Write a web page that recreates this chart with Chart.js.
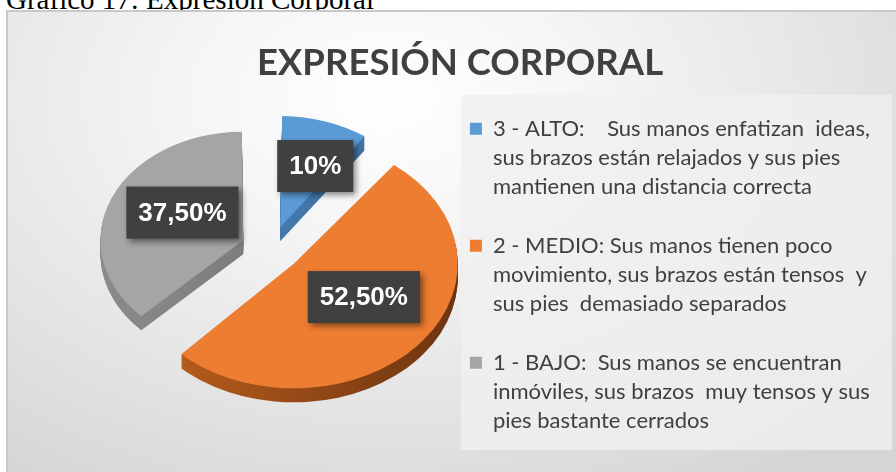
<!DOCTYPE html>
<html>
<head>
<meta charset="utf-8">
<script src="https://cdn.jsdelivr.net/npm/chart.js@4.4.1/dist/chart.umd.min.js"></script>
<style>
    html, body { margin: 0; padding: 0; width: 896px; height: 472px; overflow: hidden; background: #fff; }
    #caption { position: absolute; left: 6px; top: -15px; font: 29px/1 "Liberation Serif", "Times New Roman", serif; color: #000; white-space: nowrap; }
    #frame { position: absolute; left: 6px; top: 10px; width: 900px; height: 480px; border: 2px solid #c8c8c8;
             background: radial-gradient(ellipse 75% 95% at 42% 18%, #ffffff 0%, #f5f5f5 30%, #e3e3e3 70%, #d5d5d5 100%); }
    #wrap { position: absolute; left: 0; top: 0; width: 888px; height: 460px; }
</style>
</head>
<body>
<div id="caption">Gráfico 17: Expresión Corporal</div>
<div id="frame"><div id="wrap"><canvas id="chart"></canvas></div></div>

<script>
const categories = [
    ["3 - ALTO:    Sus manos enfatizan  ideas,", "sus brazos están relajados y sus pies", "mantienen una distancia correcta"],
    ["2 - MEDIO: Sus manos tienen poco", "movimiento, sus brazos están tensos  y", "sus pies  demasiado separados"],
    ["1 - BAJO:  Sus manos se encuentran", "inmóviles, sus brazos  muy tensos y sus", "pies bastante cerrados"]
];
const percentages = [10, 52.5, 37.5];
const sliceColors = ["#5b9bd5", "#ed7d31", "#a5a5a5"];
const sideColors = [["#4f88bf", "#3a6a99"], ["#c4631f", "#6a3310"], ["#8e8e8e", "#6c6c6c"]];

// fake 3D view of the pie: vertical squash, extrusion depth, plot position
const view = { tilt: 0.76, depth: 14, shiftX: 31, shiftY: -31, labelDx: 11, labelDy: -5 };

function pctText(v) {
    return (v % 1 ? v.toFixed(2).replace(".", ",") : String(v)) + "%";
}

function viewCenter(chart) {
    const a = chart.getDatasetMeta(0).data[0];
    return { x: a.x, y: a.y };
}

const panelPlugin = {
    id: "panel",
    beforeDraw(chart) {
        const l = chart.legend;
        const ctx = chart.ctx;
        ctx.save();
        ctx.fillStyle = "rgba(240,240,240,0.8)";
        ctx.fillRect(l.left + 21, l.top + 7, chart.width - 4 - (l.left + 21), l.bottom - 22 - (l.top + 7));
        ctx.restore();
    }
};

const pie3dPlugin = {
    id: "pie3d",
    beforeDatasetsDraw(chart) {
        const ctx = chart.ctx;
        const arcs = chart.getDatasetMeta(0).data;
        const c = viewCenter(chart);
        const r = arcs[0].outerRadius + 40;

        ctx.save();
        ctx.translate(c.x + view.shiftX, c.y + view.shiftY);
        ctx.scale(1, view.tilt);
        ctx.translate(-c.x, -c.y);

        for (let d = view.depth; d > 0; d--) {
            ctx.save();
            ctx.translate(0, d / view.tilt);
            arcs.forEach((arc, i) => {
                const g = ctx.createLinearGradient(c.x - r, 0, c.x + r, 0);
                g.addColorStop(0, sideColors[i][0]);
                g.addColorStop(1, sideColors[i][1]);
                const side = Object.create(arc);
                side.options = Object.assign({}, arc.options, { backgroundColor: g, borderColor: g, borderWidth: 0 });
                side.draw(ctx);
            });
            ctx.restore();
        }
    },
    afterDatasetsDraw(chart) {
        const ctx = chart.ctx;
        ctx.restore();

        const arcs = chart.getDatasetMeta(0).data;
        const c = viewCenter(chart);

        ctx.save();
        ctx.font = "bold 26px 'Liberation Sans', Arial, sans-serif";
        ctx.textAlign = "center";
        ctx.textBaseline = "middle";
        arcs.forEach((arc, i) => {
            const mid = (arc.startAngle + arc.endAngle) / 2;
            const dist = arc.options.offset / 4 + arc.outerRadius * 0.58;
            const px = c.x + Math.cos(mid) * dist;
            const py = c.y + Math.sin(mid) * dist;
            const x = px + view.shiftX + view.labelDx;
            const y = c.y + view.shiftY + (py - c.y) * view.tilt + view.labelDy;

            const text = pctText(percentages[i]);
            const w = ctx.measureText(text).width + 24;
            const h = 52;

            ctx.shadowColor = "rgba(0,0,0,0.45)";
            ctx.shadowBlur = 6;
            ctx.shadowOffsetX = 3;
            ctx.shadowOffsetY = 3;
            ctx.fillStyle = "#404040";
            ctx.fillRect(x - w / 2, y - h / 2, w, h);

            ctx.shadowColor = "transparent";
            ctx.fillStyle = "#ffffff";
            ctx.fillText(text, x, y + 1);
        });
        ctx.restore();
    }
};

new Chart(document.getElementById("chart"), {
    type: "pie",
    data: {
        labels: categories,
        datasets: [{
            data: percentages,
            backgroundColor: sliceColors,
            borderWidth: 0,
            offset: 120,
            radius: 134
        }]
    },
    options: {
        responsive: true,
        maintainAspectRatio: false,
        animation: false,
        layout: {
            padding: { left: 32, right: 16, top: 0, bottom: 0 }
        },
        plugins: {
            title: {
                display: true,
                text: "EXPRESIÓN CORPORAL",
                color: "#404040",
                font: { family: "Lato", size: 36.5, weight: "bold", lineHeight: 1.2 },
                padding: { top: 29, bottom: 3 }
            },
            legend: {
                position: "right",
                align: "start",
                fullSize: false,
                maxWidth: 470,
                labels: {
                    boxWidth: 12,
                    boxHeight: 12,
                    padding: 30,
                    color: "#404040",
                    font: { family: "Lato", size: 22, lineHeight: 1.318 }
                }
            },
            tooltip: { enabled: false }
        }
    },
    plugins: [panelPlugin, pie3dPlugin]
});
</script>
</body>
</html>
